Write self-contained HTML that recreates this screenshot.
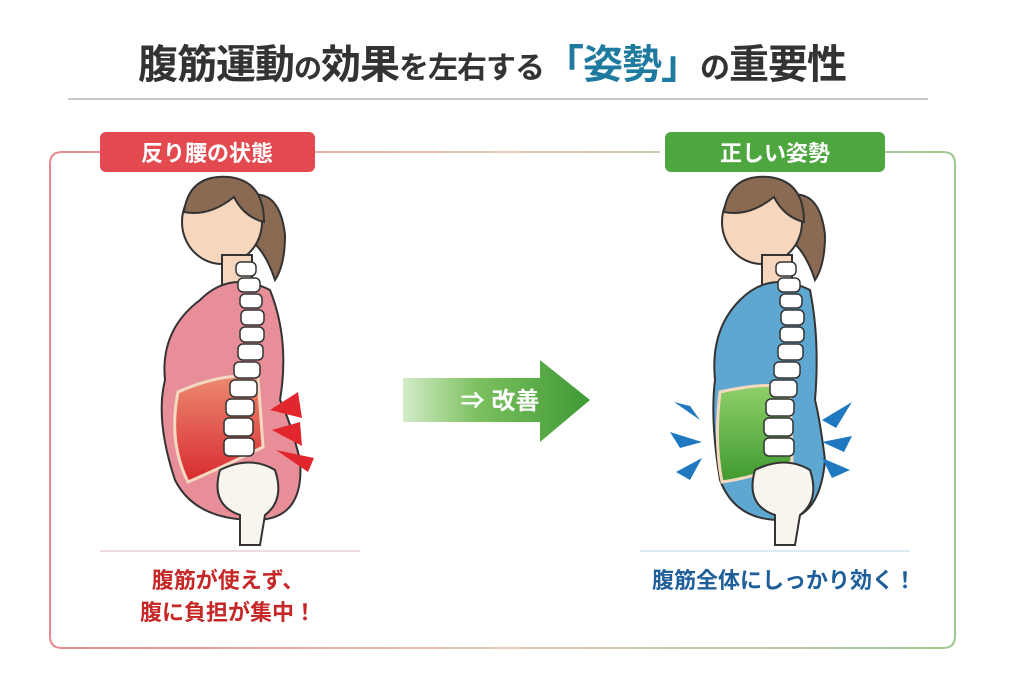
<!DOCTYPE html>
<html><head><meta charset="utf-8"><style>
html,body{margin:0;padding:0;background:#fff;}
svg{display:block}
text{font-family:"Liberation Sans","Noto Sans CJK JP",sans-serif;font-weight:bold}
</style></head><body>
<svg width="1024" height="683" viewBox="0 0 1024 683" xmlns="http://www.w3.org/2000/svg">
<defs>
<linearGradient id="fr" x1="0" x2="1"><stop offset="0" stop-color="#e58a8f"/><stop offset="0.5" stop-color="#e8c8c0"/><stop offset="1" stop-color="#9cc98e"/></linearGradient>
<linearGradient id="ar" x1="0" x2="1"><stop offset="0" stop-color="#d3ecc8"/><stop offset="0.4" stop-color="#7cc060"/><stop offset="1" stop-color="#3f9a35"/></linearGradient>
<linearGradient id="mr" x1="0" y1="0" x2="0" y2="1"><stop offset="0" stop-color="#ec8a70"/><stop offset="1" stop-color="#d82a30"/></linearGradient>
<linearGradient id="mg" x1="0" y1="0" x2="0" y2="1"><stop offset="0" stop-color="#8fd06a"/><stop offset="1" stop-color="#3f9a2e"/></linearGradient>
<g id="fig">
 <path d="M250 195 q30 -5 35 40 q0 30 -10 45 q-10 -30 -25 -40z" fill="#8a6a52" stroke="#333" stroke-width="2"/>
 <ellipse cx="222" cy="222" rx="40" ry="42" fill="#f6d6bd" stroke="#333" stroke-width="2"/>
 <path d="M184 212 q5 -38 45 -35 q35 4 35 45 q-20 -5 -30 -25 q-25 20 -50 15z" fill="#8a6a52" stroke="#333" stroke-width="2"/>
 <rect x="222" y="255" width="30" height="50" fill="#f6d6bd" stroke="#333" stroke-width="2"/>
</g>
<g id="spine" fill="#fff" stroke="#333" stroke-width="1.5">
 <rect x="236" y="262" width="20" height="14" rx="5"/>
 <rect x="238" y="278" width="22" height="14" rx="5"/>
 <rect x="240" y="294" width="22" height="14" rx="5"/>
 <rect x="241" y="310" width="23" height="15" rx="5"/>
 <rect x="240" y="327" width="24" height="15" rx="5"/>
 <rect x="238" y="344" width="25" height="16" rx="5"/>
 <rect x="234" y="362" width="26" height="16" rx="5"/>
 <rect x="230" y="380" width="27" height="17" rx="5"/>
 <rect x="226" y="399" width="28" height="17" rx="5"/>
 <rect x="224" y="418" width="29" height="18" rx="5"/>
 <rect x="224" y="438" width="30" height="18" rx="5"/>
</g>
</defs>

<text x="492" y="78" font-size="40" fill="#333" text-anchor="middle" letter-spacing="-1">腹筋運動<tspan font-size="28">の</tspan>効果<tspan font-size="30">を左右する</tspan><tspan fill="#1f7aa0">「姿勢」</tspan><tspan font-size="30">の</tspan>重要性</text>
<line x1="68" y1="99" x2="928" y2="99" stroke="#c8c8c8" stroke-width="2"/>

<path d="M315 152 H660 M885 152 H943 Q955 152 955 164 V636 Q955 648 943 648 H62 Q50 648 50 636 V164 Q50 152 62 152 H100" fill="none" stroke="url(#fr)" stroke-width="2"/>
<rect x="100" y="132" width="215" height="40" rx="6" fill="#e34a50"/>
<text x="207" y="161" font-size="22" fill="#fff" text-anchor="middle">反り腰の状態</text>
<rect x="665" y="132" width="220" height="40" rx="6" fill="#4ea63f"/>
<text x="775" y="161" font-size="22" fill="#fff" text-anchor="middle">正しい姿勢</text>

<g>
 <use href="#fig"/>
 <path d="M200 300 q-40 30 -35 80 q-10 40 10 100 q20 40 80 40 q50 0 45 -60 q-10 -40 -20 -60 q10 -60 -10 -110 q-40 -20 -70 10z" fill="#e88e98" stroke="#333" stroke-width="2"/>
 <path d="M178 392 q45 -20 80 -15 l5 70 q-40 20 -75 35 q-20 -40 -10 -90z" fill="url(#mr)" stroke="#f5d8c0" stroke-width="3"/>
 <use href="#spine"/>
 <path d="M220 470 q30 -15 55 0 q10 30 -10 45 l-5 30 h-20 l0 -30 q-30 -10 -20 -45z" fill="#f8f4ee" stroke="#333" stroke-width="2"/>
 <polygon points="270,410 298,392 302,418" fill="#e2262e"/>
 <polygon points="272,430 300,422 302,446" fill="#e2262e"/>
 <polygon points="276,450 314,458 308,472" fill="#e2262e"/>
</g>
<g transform="translate(540,0)">
 <use href="#fig"/>
 <path d="M200 300 q-30 30 -25 80 q-5 40 5 100 q15 40 60 40 q40 0 45 -60 q-5 -40 -10 -60 q5 -60 -5 -110 q-40 -20 -70 10z" fill="#5ea7d0" stroke="#333" stroke-width="2"/>
 <path d="M180 392 q45 -10 70 -5 l2 75 q-35 15 -70 20 q-8 -40 -2 -90z" fill="url(#mg)" stroke="#f5d8c0" stroke-width="3"/>
 <use href="#spine"/>
 <path d="M215 470 q30 -15 55 0 q10 30 -10 45 l-5 30 h-20 l0 -30 q-30 -10 -20 -45z" fill="#f8f4ee" stroke="#333" stroke-width="2"/>
 <g fill="#1f78c0">
  <polygon points="134,402 160,420 150,406"/><polygon points="130,432 162,442 140,448"/><polygon points="136,472 162,458 150,480"/>
  <polygon points="312,402 282,420 296,428"/><polygon points="312,436 282,442 304,452"/><polygon points="310,470 282,458 292,478"/>
 </g>
</g>
<polygon points="403,378 540,378 540,360 590,400 540,442 540,422 403,422" fill="url(#ar)"/>
<text x="500" y="409" font-size="24" fill="#fff" text-anchor="middle">⇒ 改善</text>

<line x1="100" y1="551" x2="360" y2="551" stroke="#f0dcdc" stroke-width="2"/>
<line x1="640" y1="551" x2="910" y2="551" stroke="#dceaf0" stroke-width="2"/>
<text x="228" y="588" font-size="22" fill="#c62828" text-anchor="middle">腹筋が使えず、</text>
<text x="228" y="620" font-size="22" fill="#c62828" text-anchor="middle">腹に負担が集中！</text>
<text x="784" y="588" font-size="22" fill="#1e5f9a" text-anchor="middle">腹筋全体にしっかり効く！</text>
</svg>
</body></html>
